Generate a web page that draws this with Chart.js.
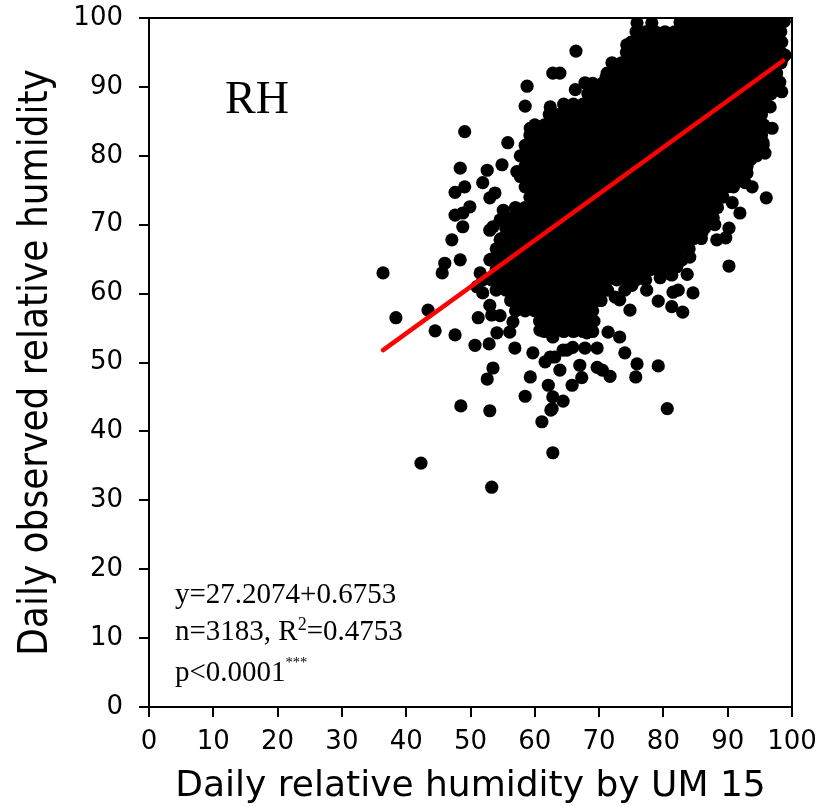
<!DOCTYPE html>
<html>
<head>
<meta charset="utf-8">
<script src="https://cdn.jsdelivr.net/npm/chart.js@4.4.1/dist/chart.umd.min.js"></script>
<style>
    body { margin: 0; background: #fff; }
    #wrap { position: relative; width: 832px; height: 807px; }
    .note { position: absolute; font-family: 'Liberation Serif', 'DejaVu Serif', serif; color: #000; white-space: nowrap; }
    #rh { left: 225px; top: 75px; font-size: 46px; line-height: 46px; }
    #stats { left: 175px; top: 575px; font-size: 29px; line-height: 37px; }
    .sup2 { font-size: 0.62em; position: relative; top: -0.55em; }
    .stars { font-size: 0.5em; position: relative; top: -0.95em; }
</style>
</head>
<body>
<div id="wrap">
    <canvas id="rhChart" width="832" height="807"></canvas>
    <div class="note" id="rh">RH</div>
    <div class="note" id="stats">
        y=27.2074+0.6753<br>
        n=3183, R<span class="sup2">2</span>=0.4753<br>
        p&lt;0.0001<span class="stars">***</span>
    </div>
</div>
<script>
// axes
const tickValues = [0, 10, 20, 30, 40, 50, 60, 70, 80, 90, 100];
const xTitle = 'Daily relative humidity by UM 15';
const yTitle = 'Daily observed relative humidity';

// regression line (ends of the red line)
const fitX = [36.4, 98.6];
const fitY = [51.8, 93.8];

// dense part of the cloud (UM value, observed value)
const coreUpper = [
    [84,99.5],[85.5,99.5],[87,99.5],[88.5,99.5],[90,99.5],[91.5,99.5],[93,99.5],[94.5,99.5],[96,99.5],[97.5,99.5],[98.8,99.5],
    [75.75,98],[77.25,98],[78.75,98],[80.25,98],[81.75,98],[83.25,98],[84.75,98],[86.25,98],[87.75,98],[89.25,98],[90.75,98],[92.25,98],[93.75,98],[95.25,98],[96.75,98],[98.25,98],
    [75,96.5],[76.5,96.5],[78,96.5],[79.5,96.5],[81,96.5],[82.5,96.5],[84,96.5],[85.5,96.5],[87,96.5],[88.5,96.5],[90,96.5],[91.5,96.5],[93,96.5],[94.5,96.5],[96,96.5],[97.5,96.5],[98.4,96.5],
    [74.25,95],[75.75,95],[77.25,95],[78.75,95],[80.25,95],[81.75,95],[83.25,95],[84.75,95],[86.25,95],[87.75,95],[89.25,95],[90.75,95],[92.25,95],[93.75,95],[95.25,95],[96.75,95],[98.25,95],
    [72,93.5],[73.5,93.5],[75,93.5],[76.5,93.5],[78,93.5],[79.5,93.5],[81,93.5],[82.5,93.5],[84,93.5],[85.5,93.5],[87,93.5],[88.5,93.5],[90,93.5],[91.5,93.5],[93,93.5],[94.5,93.5],[96,93.5],[97.5,93.5],[98.3,93.5],
    [71.25,92],[72.75,92],[74.25,92],[75.75,92],[77.25,92],[78.75,92],[80.25,92],[81.75,92],[83.25,92],[84.75,92],[86.25,92],[87.75,92],[89.25,92],[90.75,92],[92.25,92],[93.75,92],[95.25,92],[96.75,92],[97.6,92],
    [69,90.5],[70.5,90.5],[72,90.5],[73.5,90.5],[75,90.5],[76.5,90.5],[78,90.5],[79.5,90.5],[81,90.5],[82.5,90.5],[84,90.5],[85.5,90.5],[87,90.5],[88.5,90.5],[90,90.5],[91.5,90.5],[93,90.5],[94.5,90.5],[96,90.5],[97.2,90.5],
    [68.25,89],[69.75,89],[71.25,89],[72.75,89],[74.25,89],[75.75,89],[77.25,89],[78.75,89],[80.25,89],[81.75,89],[83.25,89],[84.75,89],[86.25,89],[87.75,89],[89.25,89],[90.75,89],[92.25,89],[93.75,89],[95.25,89],[96.75,89]
];
const coreMiddle = [
    [64.5,87.5],[66,87.5],[67.5,87.5],[69,87.5],[70.5,87.5],[72,87.5],[73.5,87.5],[75,87.5],[76.5,87.5],[78,87.5],[79.5,87.5],[81,87.5],[82.5,87.5],[84,87.5],[85.5,87.5],[87,87.5],[88.5,87.5],[90,87.5],[91.5,87.5],[93,87.5],[94.5,87.5],[96,87.5],
    [62.25,86],[63.75,86],[65.25,86],[66.75,86],[68.25,86],[69.75,86],[71.25,86],[72.75,86],[74.25,86],[75.75,86],[77.25,86],[78.75,86],[80.25,86],[81.75,86],[83.25,86],[84.75,86],[86.25,86],[87.75,86],[89.25,86],[90.75,86],[92.25,86],[93.75,86],[95.25,86],
    [60,84.5],[61.5,84.5],[63,84.5],[64.5,84.5],[66,84.5],[67.5,84.5],[69,84.5],[70.5,84.5],[72,84.5],[73.5,84.5],[75,84.5],[76.5,84.5],[78,84.5],[79.5,84.5],[81,84.5],[82.5,84.5],[84,84.5],[85.5,84.5],[87,84.5],[88.5,84.5],[90,84.5],[91.5,84.5],[93,84.5],[94.5,84.5],[95.6,84.5],
    [59.25,83],[60.75,83],[62.25,83],[63.75,83],[65.25,83],[66.75,83],[68.25,83],[69.75,83],[71.25,83],[72.75,83],[74.25,83],[75.75,83],[77.25,83],[78.75,83],[80.25,83],[81.75,83],[83.25,83],[84.75,83],[86.25,83],[87.75,83],[89.25,83],[90.75,83],[92.25,83],[93.75,83],[95.25,83],
    [58.5,81.5],[60,81.5],[61.5,81.5],[63,81.5],[64.5,81.5],[66,81.5],[67.5,81.5],[69,81.5],[70.5,81.5],[72,81.5],[73.5,81.5],[75,81.5],[76.5,81.5],[78,81.5],[79.5,81.5],[81,81.5],[82.5,81.5],[84,81.5],[85.5,81.5],[87,81.5],[88.5,81.5],[90,81.5],[91.5,81.5],[93,81.5],[94.5,81.5],[95.5,81.5],
    [57.75,80],[59.25,80],[60.75,80],[62.25,80],[63.75,80],[65.25,80],[66.75,80],[68.25,80],[69.75,80],[71.25,80],[72.75,80],[74.25,80],[75.75,80],[77.25,80],[78.75,80],[80.25,80],[81.75,80],[83.25,80],[84.75,80],[86.25,80],[87.75,80],[89.25,80],[90.75,80],[92.25,80],[93.75,80],[94.5,80],
    [58.5,78.5],[60,78.5],[61.5,78.5],[63,78.5],[64.5,78.5],[66,78.5],[67.5,78.5],[69,78.5],[70.5,78.5],[72,78.5],[73.5,78.5],[75,78.5],[76.5,78.5],[78,78.5],[79.5,78.5],[81,78.5],[82.5,78.5],[84,78.5],[85.5,78.5],[87,78.5],[88.5,78.5],[90,78.5],[91.5,78.5],[93,78.5],
    [57.75,77],[59.25,77],[60.75,77],[62.25,77],[63.75,77],[65.25,77],[66.75,77],[68.25,77],[69.75,77],[71.25,77],[72.75,77],[74.25,77],[75.75,77],[77.25,77],[78.75,77],[80.25,77],[81.75,77],[83.25,77],[84.75,77],[86.25,77],[87.75,77],[89.25,77],[90.75,77],[92.25,77],
    [58.5,75.5],[60,75.5],[61.5,75.5],[63,75.5],[64.5,75.5],[66,75.5],[67.5,75.5],[69,75.5],[70.5,75.5],[72,75.5],[73.5,75.5],[75,75.5],[76.5,75.5],[78,75.5],[79.5,75.5],[81,75.5],[82.5,75.5],[84,75.5],[85.5,75.5],[87,75.5],[88.5,75.5],[90,75.5],[90.9,75.5]
];
const coreLower = [
    [59.25,74],[60.75,74],[62.25,74],[63.75,74],[65.25,74],[66.75,74],[68.25,74],[69.75,74],[71.25,74],[72.75,74],[74.25,74],[75.75,74],[77.25,74],[78.75,74],[80.25,74],[81.75,74],[83.25,74],[84.75,74],[86.25,74],[87.75,74],[89.25,74],
    [57,72.5],[58.5,72.5],[60,72.5],[61.5,72.5],[63,72.5],[64.5,72.5],[66,72.5],[67.5,72.5],[69,72.5],[70.5,72.5],[72,72.5],[73.5,72.5],[75,72.5],[76.5,72.5],[78,72.5],[79.5,72.5],[81,72.5],[82.5,72.5],[84,72.5],[85.5,72.5],[87,72.5],[88.4,72.5],
    [56.25,71],[57.75,71],[59.25,71],[60.75,71],[62.25,71],[63.75,71],[65.25,71],[66.75,71],[68.25,71],[69.75,71],[71.25,71],[72.75,71],[74.25,71],[75.75,71],[77.25,71],[78.75,71],[80.25,71],[81.75,71],[83.25,71],[84.75,71],[86.25,71],[87.75,71],
    [55.5,69.5],[57,69.5],[58.5,69.5],[60,69.5],[61.5,69.5],[63,69.5],[64.5,69.5],[66,69.5],[67.5,69.5],[69,69.5],[70.5,69.5],[72,69.5],[73.5,69.5],[75,69.5],[76.5,69.5],[78,69.5],[79.5,69.5],[81,69.5],[82.5,69.5],[84,69.5],[85.5,69.5],[86.4,69.5],
    [54.75,68],[56.25,68],[57.75,68],[59.25,68],[60.75,68],[62.25,68],[63.75,68],[65.25,68],[66.75,68],[68.25,68],[69.75,68],[71.25,68],[72.75,68],[74.25,68],[75.75,68],[77.25,68],[78.75,68],[80.25,68],[81.75,68],[83.25,68],[84.75,68],[85.9,68],
    [54,66.5],[55.5,66.5],[57,66.5],[58.5,66.5],[60,66.5],[61.5,66.5],[63,66.5],[64.5,66.5],[66,66.5],[67.5,66.5],[69,66.5],[70.5,66.5],[72,66.5],[73.5,66.5],[75,66.5],[76.5,66.5],[78,66.5],[79.5,66.5],[81,66.5],[82.5,66.5],[84,66.5],
    [53.25,65],[54.75,65],[56.25,65],[57.75,65],[59.25,65],[60.75,65],[62.25,65],[63.75,65],[65.25,65],[66.75,65],[68.25,65],[69.75,65],[71.25,65],[72.75,65],[74.25,65],[75.75,65],[77.25,65],[78.75,65],[80.25,65],[81.75,65],
    [54,63.5],[55.5,63.5],[57,63.5],[58.5,63.5],[60,63.5],[61.5,63.5],[63,63.5],[64.5,63.5],[66,63.5],[67.5,63.5],[69,63.5],[70.5,63.5],[72,63.5],[73.5,63.5],[75,63.5],[76.5,63.5],[78,63.5],[79.5,63.5],
    [51.9,62],[53.25,62],[54.75,62],[56.25,62],[57.75,62],[59.25,62],[60.75,62],[62.25,62],[63.75,62],[65.25,62],[66.75,62],[68.25,62],[69.75,62],[71.25,62],[72.75,62],[74.25,62],[75.75,62],[77.25,62],
    [54,60.5],[55.5,60.5],[57,60.5],[58.5,60.5],[60,60.5],[61.5,60.5],[63,60.5],[64.5,60.5],[66,60.5],[67.5,60.5],[69,60.5],[70.5,60.5],[71.3,60.5],
    [56.25,59],[57.75,59],[59.25,59],[60.75,59],[62.25,59],[63.75,59],[65.25,59],[66.75,59],[68.25,59],[69.75,59],[70.3,59],
    [57,57.5],[58.5,57.5],[60,57.5],[61.5,57.5],[63,57.5],[64.5,57.5],[66,57.5],[67.5,57.5],[69,57.5],
    [60.75,56],[62.25,56],[63.75,56],[65.25,56],[66.75,56],[68.25,56],[69.2,56],
    [61.5,54.5],[63,54.5],[64.5,54.5],[66,54.5],[67.5,54.5],[69,54.5]
];

// loose points around the cloud
const edgeUpper = [
    [75.9,99.3],[78.2,99.3],[82.6,99.4],[74.3,96.1],[76.7,96.8],[78.4,95.6],[74.8,93.6],[72.5,92.7],
    [71.1,91.4],[66.4,95.2],[62.8,92],[63.9,92],[58.8,90.1],[66.3,89.6],[67.8,90.6],[58.5,87.2],
    [62.4,87.1],[49.1,83.5],[59.3,84],[55.8,81.9]
];
const edgeLeft = [
    [48.4,78.2],[52.6,77.9],[54.9,78.7],[57.2,77.7],[51.9,76.1],[49.9,72.6],[55.1,72.1],[47.6,74.7],
    [49.1,75.5],[47.6,71.4],[48.8,71.7],[48.8,69.7],[47.1,67.8],[48.4,64.9],[46,64.4],[45.6,63],
    [53,69.2],[53.8,74.6],[53,73.9],[54.6,70.7],[53.5,69.7],[54.6,67.8],[53,64.9],[51.5,63],
    [51,61],[51.9,60.1],[53,58.3],[54.6,56.8]
];
const edgeRight = [
    [74.8,57.6],[79.2,58.9],[81.3,58.1],[83,57.3],[84.6,60.1],[81.5,60.2],[82.3,60.5],[96,73.9],
    [91.9,71.7],[90.2,69.5],[89.7,68.1],[88.3,67.8],[90.2,64],[88,70],[86,68.9],[83.7,62.8],
    [81.3,62.7],[79.5,62.3],[77.4,60.5],[75.1,61.2],[84.1,65.3],[83.7,66.8],[81,64.2],[93.8,75.5],
    [92.7,76.1],[90.7,73.2],[95.8,80.4],[98.6,94.3],[98.1,90.7],[98.4,89.3],[96.6,87.1],[96.9,84],
    [95.5,81.9],[93.5,79.4],[93,77.5],[98.9,94.6],[74.5,61.5],[76.4,62.4],[80.6,63],[82.1,63.9],
    [72.5,59.5],[73.2,59.1],[74,60.5],[80.6,63.4],[82.9,64.9],[81.5,65.3],[87.2,70.7],[85.7,70.2],
    [91.9,76.5],[92.4,77.5]
];
const edgeLower = [
    [36.4,63],[38.4,56.5],[43.4,57.6],[44.5,54.6],[47.6,54],[51.2,56.5],[50.7,52.5],[52.9,52.7],
    [53.5,49.2],[52.6,47.6],[56.9,52.1],[59.7,51.4],[59.3,47.9],[58.5,45.1],[62.1,46.7],[62.8,45],
    [64.4,44.4],[62.7,43.3],[61.1,41.4],[62.8,36.9],[48.5,43.7],[53,43],[42.3,35.4],[53.3,31.9],
    [80.6,43.3],[63.9,48.9],[61.6,50.1],[67,49.6],[67.3,47.8],[65.8,46.7],[69.7,49.3],[70.5,48.9],
    [71.7,48],[74,51.4],[75.9,49.8],[75.7,47.9],[73.2,53.7],[71.4,54.4],[67.8,52.1],[69.7,52.1],
    [65,51.8],[63.1,50.8],[54.1,54.3],[56.1,54.4],[56.6,55.9],[53.3,56.9],[79.2,49.5],[60.8,54.7],
    [62.8,53.7],[62.4,50.8],[64.4,51.8],[65.9,52.2],[68.1,54.3],[62.5,43.1]
];

const points = [...coreUpper, ...coreMiddle, ...coreLower, ...edgeUpper, ...edgeLeft, ...edgeRight, ...edgeLower]
    .map(p => ({ x: p[0], y: p[1] }));
const fitLine = fitX.map((x, i) => ({ x, y: fitY[i] }));

// box round the plot area
const frame = {
    id: 'frame',
    afterDatasetsDraw(chart) {
        const { ctx, chartArea: a } = chart;
        ctx.save();
        ctx.strokeStyle = '#000';
        ctx.lineWidth = 2;
        ctx.strokeRect(a.left, a.top, a.right - a.left, a.bottom - a.top);
        ctx.restore();
    }
};

const tickFont = { family: 'DejaVu Sans', size: 26 };
const setTicks = s => { s.ticks = tickValues.map(v => ({ value: v })); };

new Chart(document.getElementById('rhChart'), {
    type: 'scatter',
    data: {
        datasets: [
            { type: 'line', data: fitLine, borderColor: '#ff0000', borderWidth: 4.5, borderCapStyle: 'round', pointRadius: 0, order: 0, clip: 0 },
            { data: points, backgroundColor: '#000', borderWidth: 0, pointRadius: 6.6, pointHoverRadius: 6.6, order: 1, clip: 0 }
        ]
    },
    options: {
        responsive: false,
        animation: false,
        devicePixelRatio: 1,
        events: [],
        layout: { padding: { top: 18, right: 40, left: 0, bottom: 0 } },
        plugins: { legend: { display: false }, tooltip: { enabled: false } },
        scales: {
            x: {
                type: 'linear', min: 0, max: 100,
                afterBuildTicks: setTicks,
                afterFit: s => { s.height = 100; s.paddingLeft = 0; s.paddingRight = 0; },
                ticks: { color: '#000', font: tickFont, padding: 10, maxRotation: 0, autoSkip: false },
                grid: { drawOnChartArea: false, tickLength: 10, color: '#000', lineWidth: 2 },
                border: { color: '#000', width: 2 },
                title: { display: true, text: xTitle, color: '#000', font: { family: 'DejaVu Sans', size: 36, lineHeight: 1 }, padding: { top: 0, bottom: 2 } }
            },
            y: {
                type: 'linear', min: 0, max: 100,
                afterBuildTicks: setTicks,
                afterFit: s => { s.width = 149; s.paddingTop = 0; s.paddingBottom = 0; },
                ticks: { color: '#000', font: tickFont, padding: 16, autoSkip: false },
                grid: { drawOnChartArea: false, tickLength: 10, color: '#000', lineWidth: 2 },
                border: { color: '#000', width: 2 },
                title: { display: true, text: yTitle, color: '#000', font: { family: "'DejaVu Sans Condensed', 'Liberation Sans Narrow', 'DejaVu Sans'", size: 40, lineHeight: 1 }, padding: { top: 17, bottom: 0 } }
            }
        }
    },
    plugins: [frame]
});
</script>
</body>
</html>
